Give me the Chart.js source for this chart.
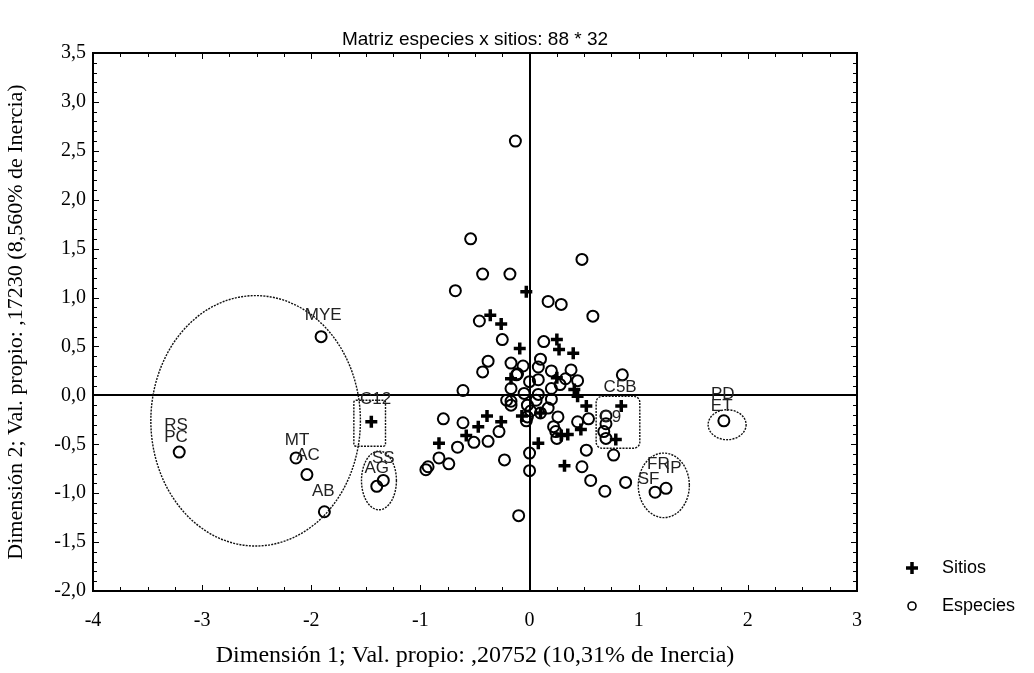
<!DOCTYPE html>
<html>
<head>
<meta charset="utf-8">
<script src="https://cdn.jsdelivr.net/npm/chart.js@4/dist/chart.umd.min.js"></script>
<style>
  html, body { margin: 0; padding: 0; background: #fff; }
  canvas { display: block; }
</style>
</head>
<body>
<canvas id="chart" width="1034" height="673"></canvas>
<script>
// --- data ---
const sitiosX = [-0.03, -0.36, -0.26, -0.09, 0.25, 0.27, 0.40, -0.17, 0.25, 0.41, 0.44, 0.52, 0.84, 0.79,
  0.47, 0.35, 0.32, 0.08, 0.10, -0.07, -0.39, -0.26, -0.47, -0.58, -0.83, -1.45, 0.29];
const sitiosY = [1.06, 0.82, 0.73, 0.48, 0.57, 0.47, 0.43, 0.17, 0.18, 0.06, -0.01, -0.11, -0.11, -0.45,
  -0.35, -0.40, -0.72, -0.49, -0.18, -0.21, -0.21, -0.27, -0.32, -0.41, -0.49, -0.27, -0.41];

const especiesX = [-0.13, -0.54, -0.43, -0.18, 0.48, -0.68, 0.17, 0.29, 0.58, -0.46, -0.25, 0.13, -0.38, -0.43,
  -0.17, -0.06, 0.10, 0.08, 0.38, 0.44, 0.85, -0.61, 0.00, -0.11, 0.08, 0.20, 0.28, 0.33, -0.17, -0.17,
  -0.17, -0.02, 0.20, 0.08, -0.02, 0.10, 0.26, 0.24, 0.25, 0.44, 0.54, 0.70, 0.68, 0.70, 0.52, 0.77,
  0.48, 0.56, 0.69, 0.88, 0.00, 0.00, -0.10, -0.23, -0.66, -0.83, -0.74, -0.93, -0.95, -0.79, -0.61,
  -0.51, -0.38, -0.28, -1.91, -3.21, -2.14, -2.04, -1.88, -1.34, -1.40, 1.78, 1.15, 1.25, -0.03, 0.06,
  0.17, 0.01, -0.21, 0.22, -0.12, 0.70, -0.05, 0.20];
const especiesY = [2.60, 1.60, 1.24, 1.24, 1.39, 1.07, 0.96, 0.93, 0.81, 0.76, 0.57, 0.55, 0.35, 0.24,
  0.33, 0.30, 0.37, 0.29, 0.26, 0.15, 0.21, 0.05, 0.14, 0.22, 0.16, 0.07, 0.11, 0.17, 0.07, -0.06,
  -0.10, -0.10, -0.04, 0.01, -0.22, -0.18, -0.22, -0.37, -0.44, -0.27, -0.24, -0.29, -0.37, -0.44, -0.56, -0.61,
  -0.73, -0.87, -0.98, -0.89, -0.59, -0.77, -1.23, -0.66, -0.53, -0.64, -0.70, -0.73, -0.76, -0.24, -0.28,
  -0.48, -0.47, -0.37, 0.60, -0.58, -0.64, -0.81, -1.19, -0.87, -0.93, -0.26, -0.99, -0.95, -0.26, -0.05,
  -0.13, -0.16, -0.05, -0.32, 0.21, -0.21, 0.02, 0.25];

const xTicks = [-4, -3, -2, -1, 0, 1, 2, 3];
const yTicks = [-2, -1.5, -1, -0.5, 0, 0.5, 1, 1.5, 2, 2.5, 3, 3.5];

// point labels
const labelText = ['MYE', 'RS', 'PC', 'MT', 'AC', 'AB', 'C12', 'SS', 'AG', 'C5B', 'C9', 'PD', 'ET', 'FR', 'IP', 'SF'];
const labelX = [-1.89, -3.24, -3.24, -2.13, -2.03, -1.89, -1.41, -1.34, -1.40, 0.83, 0.74, 1.77, 1.76, 1.18, 1.32, 1.09];
const labelY = [0.82, -0.31, -0.43, -0.46, -0.61, -0.98, -0.04, -0.64, -0.75, 0.08, -0.22, 0.01, -0.11, -0.70, -0.75, -0.86];

// dotted groups: ellipses (centre, radii) and boxes (corners)
const ellCX = [-2.51, -1.38, 1.23, 1.81];
const ellCY = [-0.26, -0.87, -0.92, -0.30];
const ellRX = [0.96, 0.16, 0.234, 0.174];
const ellRY = [1.28, 0.30, 0.33, 0.153];
const boxX0 = [-1.61, 0.61];
const boxX1 = [-1.32, 1.01];
const boxY0 = [-0.05, -0.01];
const boxY1 = [-0.52, -0.54];

const serif = '"Liberation Serif", "Times New Roman", serif';
const sans = '"Liberation Sans", Arial, sans-serif';

const toPts = (xs, ys) => xs.map((x, i) => ({ x: x, y: ys[i] }));

const decor = {
  id: 'decor',
  afterDatasetsDraw(chart) {
    const { ctx, chartArea: a, scales: { x, y } } = chart;
    ctx.save();

    // dotted ellipses and boxes
    ctx.strokeStyle = '#111';
    ctx.lineWidth = 1.4;
    ctx.setLineDash([2, 1.2]);
    ellCX.forEach((cx, i) => {
      const px = x.getPixelForValue(cx), py = y.getPixelForValue(ellCY[i]);
      const rx = x.getPixelForValue(cx + ellRX[i]) - px;
      const ry = py - y.getPixelForValue(ellCY[i] + ellRY[i]);
      ctx.beginPath();
      ctx.ellipse(px, py, rx, ry, 0, 0, Math.PI * 2);
      ctx.stroke();
    });
    boxX0.forEach((bx, i) => {
      const l = x.getPixelForValue(bx), r = x.getPixelForValue(boxX1[i]);
      const t = y.getPixelForValue(boxY0[i]), b = y.getPixelForValue(boxY1[i]);
      ctx.beginPath();
      ctx.roundRect(l, t, r - l, b - t, i === 0 ? 2 : 6);
      ctx.stroke();
    });
    ctx.setLineDash([]);

    // labels
    ctx.fillStyle = '#222';
    ctx.font = '17px ' + sans;
    ctx.textAlign = 'center';
    ctx.textBaseline = 'middle';
    labelText.forEach((t, i) => {
      ctx.fillText(t, x.getPixelForValue(labelX[i]), y.getPixelForValue(labelY[i]));
    });

    // frame
    ctx.lineWidth = 2;
    ctx.strokeStyle = '#000';
    ctx.strokeRect(a.left, a.top, a.right - a.left, a.bottom - a.top);

    // inward ticks on all four sides
    ctx.lineWidth = 1;
    for (let v = x.min; v <= x.max + 1e-9; v += 0.25) {
      const px = Math.round(x.getPixelForValue(v)) + 0.5;
      const len = Math.abs(v - Math.round(v)) < 1e-6 ? 6 : 4;
      ctx.beginPath();
      ctx.moveTo(px, a.bottom); ctx.lineTo(px, a.bottom - len);
      ctx.moveTo(px, a.top); ctx.lineTo(px, a.top + len);
      ctx.stroke();
    }
    for (let v = y.min; v <= y.max + 1e-9; v += 0.1) {
      const py = Math.round(y.getPixelForValue(v)) + 0.5;
      const k = Math.round(v * 10);
      const len = k % 5 === 0 ? 6 : 4;
      ctx.beginPath();
      ctx.moveTo(a.left, py); ctx.lineTo(a.left + len, py);
      ctx.moveTo(a.right, py); ctx.lineTo(a.right - len, py);
      ctx.stroke();
    }

    // title over the plot area
    ctx.fillStyle = '#000';
    ctx.font = '19px ' + sans;
    ctx.textAlign = 'center';
    ctx.fillText('Matriz especies x sitios: 88 * 32', (a.left + a.right) / 2, 40);

    // legend
    const ds = chart.data.datasets;
    const lx = 912;
    [568, 606].forEach((ly, i) => {
      const d = ds[i];
      ctx.strokeStyle = '#000';
      ctx.fillStyle = 'rgba(0,0,0,0)';
      ctx.lineWidth = i === 0 ? 3.5 : 1.6;
      Chart.helpers.drawPoint(ctx, {
        pointStyle: d.pointStyle, rotation: 0,
        radius: i === 0 ? 6 : 4, borderWidth: ctx.lineWidth
      }, lx, ly);
      ctx.fillStyle = '#000';
      ctx.textAlign = 'left';
      ctx.font = '18px ' + sans;
      ctx.fillText(d.label, lx + 30, ly);
    });

    ctx.restore();
  }
};

new Chart(document.getElementById('chart'), {
  type: 'scatter',
  data: {
    datasets: [
      {
        label: 'Sitios',
        data: toPts(sitiosX, sitiosY),
        pointStyle: 'cross',
        pointRadius: 6,
        pointBorderWidth: 3.5,
        borderColor: '#000',
        backgroundColor: '#000'
      },
      {
        label: 'Especies',
        data: toPts(especiesX, especiesY),
        pointStyle: 'circle',
        pointRadius: 5.5,
        pointBorderWidth: 2,
        borderColor: '#000',
        backgroundColor: 'rgba(0,0,0,0)'
      }
    ]
  },
  options: {
    responsive: false,
    animation: false,
    layout: { padding: { top: 53, right: 177, left: 0, bottom: 0 } },
    plugins: { legend: { display: false }, tooltip: { enabled: false } },
    scales: {
      x: {
        type: 'linear', min: -4, max: 3,
        afterBuildTicks: s => { s.ticks = xTicks.map(v => ({ value: v })); },
        afterFit: s => { s.height = 82; },
        border: { display: false },
        grid: {
          drawTicks: false,
          lineWidth: 2,
          color: c => (c.tick && c.tick.value === 0 ? '#000' : 'rgba(0,0,0,0)')
        },
        ticks: { color: '#000', padding: 18, font: { family: serif, size: 20 }, callback: v => String(v) },
        title: {
          display: true, color: '#000',
          text: 'Dimensión 1; Val. propio: ,20752 (10,31% de Inercia)',
          font: { family: serif, size: 24 }, padding: { top: 0, bottom: 3 }
        }
      },
      y: {
        type: 'linear', min: -2, max: 3.5,
        afterBuildTicks: s => { s.ticks = yTicks.map(v => ({ value: v })); },
        afterFit: s => { s.width = 93; },
        border: { display: false },
        grid: {
          drawTicks: false,
          lineWidth: 2,
          color: c => (c.tick && c.tick.value === 0 ? '#000' : 'rgba(0,0,0,0)')
        },
        ticks: { color: '#000', padding: 7, font: { family: serif, size: 20 },
          callback: v => v.toFixed(1).replace('.', ',') },
        title: {
          display: true, color: '#000',
          text: 'Dimensión 2; Val. propio: ,17230 (8,560% de Inercia)',
          font: { family: serif, size: 22 }, padding: { top: 3, bottom: 0 }
        }
      }
    }
  },
  plugins: [decor]
});
</script>
</body>
</html>
